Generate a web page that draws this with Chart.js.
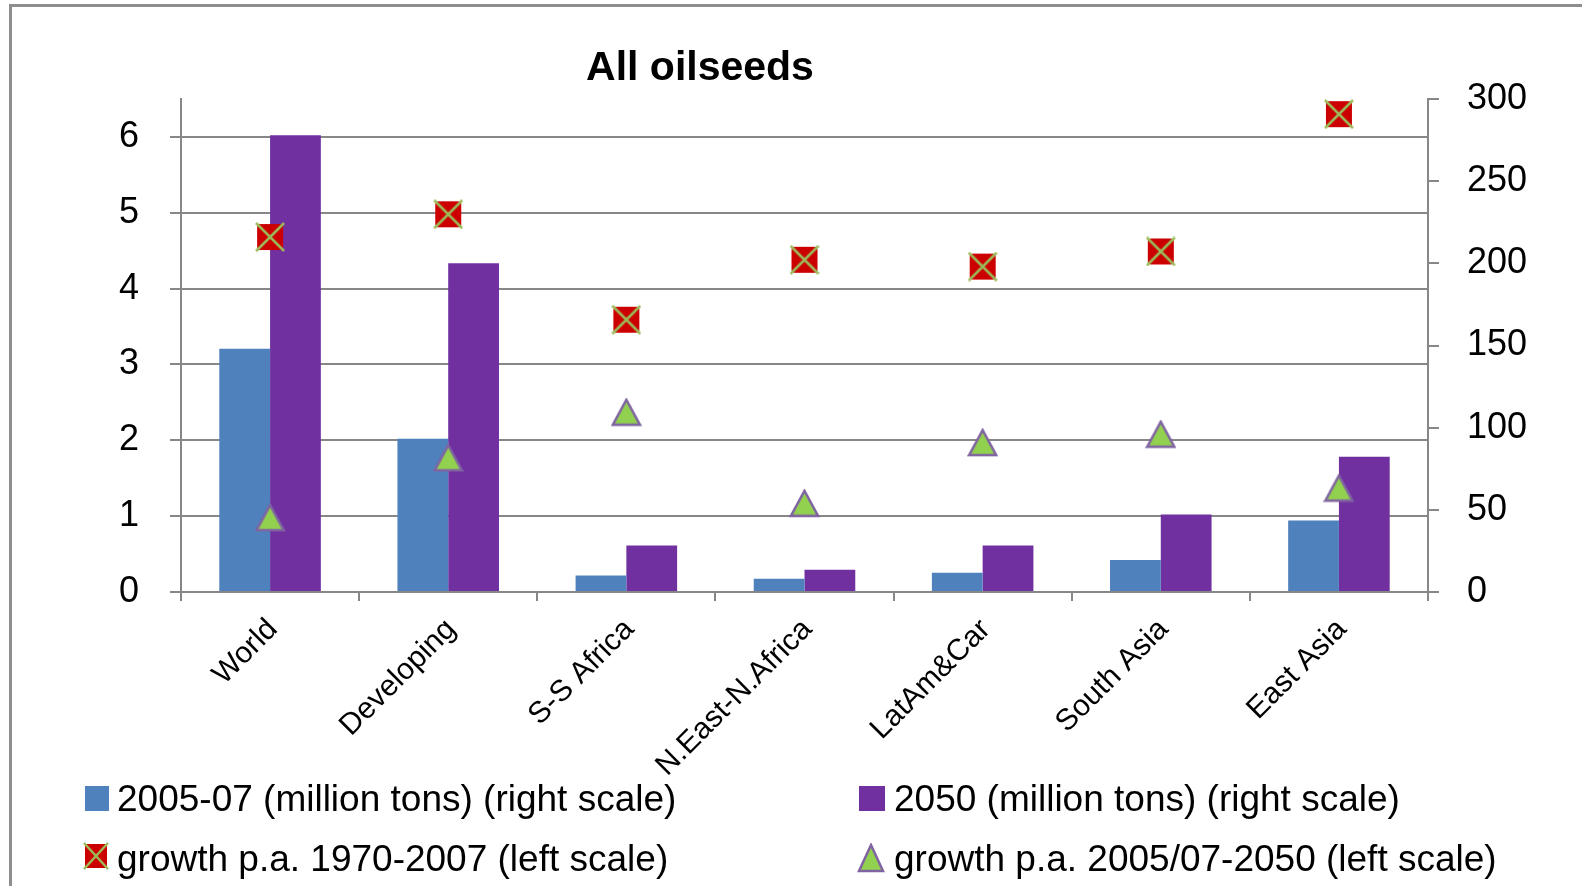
<!DOCTYPE html>
<html>
<head>
<meta charset="utf-8">
<script src="https://cdn.jsdelivr.net/npm/chart.js@4/dist/chart.umd.min.js"></script>
<style>
    body { margin: 0; background: #fff; font-family: "Liberation Sans", Arial, sans-serif; }
    #wrap { position: relative; width: 1582px; height: 886px; overflow: hidden; }
    #frame { position: absolute; left: 9px; top: 4px; width: 1700px; height: 1000px;
             border-top: 3px solid #8e8e8e; border-left: 3px solid #8e8e8e; }
    canvas { position: absolute; left: 0; top: 0; }
    .title { position: absolute; left: 500px; width: 400px; top: 46px; text-align: center;
             font-weight: bold; font-size: 41px; line-height: 1; color: #000; }
    .leg-text { position: absolute; font-size: 37px; line-height: 1; color: #000; white-space: nowrap; }
    .leg-box { position: absolute; }
</style>
</head>
<body>
<div id="wrap">
    <div id="frame"></div>
    <canvas id="chart" width="1582" height="886"></canvas>
    <div class="title">All oilseeds</div>
    <div id="legend"></div>
</div>
<script>
// data
const categories = ['World', 'Developing', 'S-S Africa', 'N.East-N.Africa', 'LatAm&Car', 'South Asia', 'East Asia'];
const prod0507 = [148, 93.3, 10, 8, 11.7, 19.5, 43.5];        // million tons, right scale
const prod2050 = [278, 200, 28.3, 13.6, 28.3, 47.2, 82.3];     // million tons, right scale
const growth7007 = [4.68, 4.98, 3.59, 4.38, 4.29, 4.49, 6.30]; // % p.a., left scale
const growth0550 = [0.98, 1.77, 2.37, 1.17, 1.97, 2.08, 1.37]; // % p.a., left scale
const leftTicks = [0, 1, 2, 3, 4, 5, 6];
const rightTicks = [0, 50, 100, 150, 200, 250, 300];
const leftMax = 6.5;
const rightMax = 300;

const seriesNames = [
    '2005-07 (million tons) (right scale)',
    '2050 (million tons) (right scale)',
    'growth p.a. 1970-2007 (left scale)',
    'growth p.a. 2005/07-2050 (left scale)'
];

const BLUE = '#4f81bd';
const PURPLE = '#7030a0';
const GRID = '#878787';

function crossMarker(w, h) {
    const c = document.createElement('canvas');
    c.width = w + 4;
    c.height = h + 4;
    const ctx = c.getContext('2d');
    ctx.fillStyle = '#cc0000';
    ctx.fillRect(2, 2, w, h);
    ctx.strokeStyle = '#9bbb59';
    ctx.lineWidth = 2.5;
    ctx.beginPath();
    ctx.moveTo(1, 1);
    ctx.lineTo(w + 3, h + 3);
    ctx.moveTo(w + 3, 1);
    ctx.lineTo(1, h + 3);
    ctx.stroke();
    return c;
}

function triangleMarker(w, h) {
    const c = document.createElement('canvas');
    c.width = w + 4;
    c.height = h + 4;
    const ctx = c.getContext('2d');
    ctx.fillStyle = '#92d050';
    ctx.strokeStyle = '#8064a2';
    ctx.lineWidth = 2.5;
    ctx.beginPath();
    ctx.moveTo(c.width / 2, 2);
    ctx.lineTo(w + 2, h + 2);
    ctx.lineTo(2, h + 2);
    ctx.closePath();
    ctx.fill();
    ctx.stroke();
    return c;
}

const squareX = crossMarker(26, 26);
const triangle = triangleMarker(27, 25);

function setTicks(scale, values) {
    scale.ticks = values.map(v => ({ value: v }));
}

const ctx = document.getElementById('chart').getContext('2d');
new Chart(ctx, {
    data: {
        labels: categories,
        datasets: [
            { type: 'bar', label: seriesNames[0], data: prod0507, yAxisID: 'y1',
              backgroundColor: BLUE, order: 2, categoryPercentage: 0.57, barPercentage: 1.0 },
            { type: 'bar', label: seriesNames[1], data: prod2050, yAxisID: 'y1',
              backgroundColor: PURPLE, order: 2, categoryPercentage: 0.57, barPercentage: 1.0 },
            { type: 'line', label: seriesNames[2], data: growth7007, yAxisID: 'y',
              showLine: false, pointStyle: squareX, order: 1 },
            { type: 'line', label: seriesNames[3], data: growth0550, yAxisID: 'y',
              showLine: false, pointStyle: triangle, order: 1 }
        ]
    },
    options: {
        responsive: false,
        animation: false,
        layout: { padding: { top: 99, left: 0, right: 0, bottom: 0 } },
        plugins: {
            legend: { display: false },
            title: { display: false },
            tooltip: { enabled: false }
        },
        scales: {
            x: {
                offset: true,
                afterFit: s => { s.height = 294; },
                border: { display: true, color: GRID, width: 2 },
                grid: { offset: true, drawOnChartArea: false, drawTicks: true, tickLength: 9, color: GRID, lineWidth: 2 },
                ticks: {
                    autoSkip: false, minRotation: 45, maxRotation: 45,
                    labelOffset: 3, padding: 11,
                    color: '#000', font: { family: 'Liberation Sans', size: 30 }
                }
            },
            y: {
                position: 'left',
                min: 0, max: leftMax,
                afterFit: s => { s.width = 181; },
                afterBuildTicks: s => setTicks(s, leftTicks),
                border: { display: true, color: GRID, width: 2 },
                grid: { drawOnChartArea: true, drawTicks: true, tickLength: 11, color: GRID, lineWidth: 2 },
                ticks: { padding: 31, color: '#000', font: { family: 'Liberation Sans', size: 36 } }
            },
            y1: {
                position: 'right',
                min: 0, max: rightMax,
                afterFit: s => { s.width = 154; },
                afterBuildTicks: s => setTicks(s, rightTicks),
                border: { display: true, color: GRID, width: 2 },
                grid: { drawOnChartArea: false, drawTicks: true, tickLength: 11, color: GRID, lineWidth: 2 },
                ticks: { padding: 28, color: '#000', font: { family: 'Liberation Sans', size: 36 } }
            }
        }
    }
});

// legend in two columns, like the original
function addLegendItem(marker, mx, my, text, tx, baseline) {
    const legend = document.getElementById('legend');
    marker.className = 'leg-box';
    marker.style.left = mx + 'px';
    marker.style.top = my + 'px';
    legend.appendChild(marker);
    const t = document.createElement('div');
    t.className = 'leg-text';
    t.textContent = text;
    t.style.left = tx + 'px';
    t.style.top = (baseline - 31) + 'px';
    legend.appendChild(t);
}

function colorBox(color, w, h) {
    const d = document.createElement('div');
    d.style.width = w + 'px';
    d.style.height = h + 'px';
    d.style.background = color;
    return d;
}

function markerCanvas(src) {
    const c = document.createElement('canvas');
    c.width = src.width;
    c.height = src.height;
    c.getContext('2d').drawImage(src, 0, 0);
    c.style.position = 'absolute';
    return c;
}

addLegendItem(colorBox(BLUE, 24, 25), 85, 786, seriesNames[0], 117, 811);
addLegendItem(colorBox(PURPLE, 26, 25), 859, 786, seriesNames[1], 894, 811);
addLegendItem(markerCanvas(crossMarker(22, 24)), 83, 842, seriesNames[2], 117, 871);
addLegendItem(markerCanvas(triangleMarker(24, 26)), 857, 843, seriesNames[3], 894, 871);
</script>
</body>
</html>
